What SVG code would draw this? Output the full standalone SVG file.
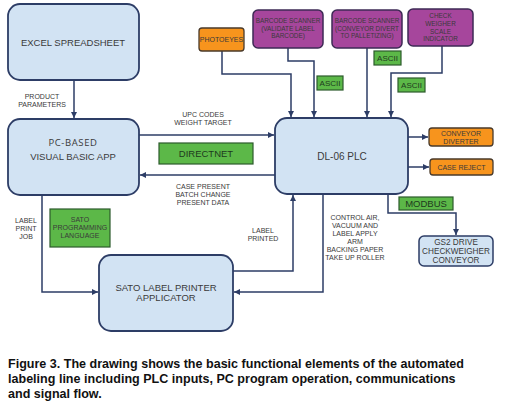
<svg xmlns="http://www.w3.org/2000/svg" width="506" height="416" viewBox="0 0 506 416">
<defs>
<marker id="ah" markerUnits="userSpaceOnUse" markerWidth="7" markerHeight="7" refX="6" refY="3" orient="auto">
<path d="M0,0 L6,3 L0,6 z" fill="#2d3d66"/>
</marker>
<style>
.blue{fill:#d2e3f3;stroke:#2d3d66;stroke-width:1.8}
.purple{fill:#a6469c;stroke:#3e2a55;stroke-width:1.5}
.orange{fill:#f7941d;stroke:#4a3a2a;stroke-width:1.3}
.green{fill:#5cb848;stroke:#2c5a2c;stroke-width:1.2}
.conn path{fill:none;stroke:#2d3d66;stroke-width:1.5;marker-end:url(#ah)}
text{font-family:"Liberation Sans",Arial,sans-serif;fill:#3a3a3a;text-anchor:middle}
.s7{font-size:7px}
.s65{font-size:6.4px}
.big{font-size:9.5px}
.cap{font-size:12.55px;font-weight:bold;fill:#111;text-anchor:start}
.gt{fill:#1e3a1e}
</style>
</defs>
<rect width="506" height="416" fill="#ffffff"/>

<g id="connectors" class="conn">
<path d="M74,80 V118"/>
<path d="M139,135 H274"/>
<path d="M275,175 H140"/>
<path d="M222,51 V74 H291 V117"/>
<path d="M288,48 V61 H314 V117"/>
<path d="M367,48 V117"/>
<path d="M442,46 V73 H391 V117"/>
<path d="M408,137 H428"/>
<path d="M408,167 H429"/>
<path d="M388,194 V213 H456 V235"/>
<path d="M323,194 V292 H234"/>
<path d="M233,271 H293 V195"/>
<path d="M42,195 V292 H98"/>
</g>

<g id="excel">
<rect class="blue" x="8" y="4" width="131" height="76" rx="12"/>
<text class="big" x="73" y="46">EXCEL SPREADSHEET</text>
</g>

<g id="pc">
<rect class="blue" x="8" y="119" width="131" height="76" rx="12"/>
<text x="73" y="146" style="font-family:'Open Sans',sans-serif;font-size:9.5px;letter-spacing:0.6px">PC-BASED</text>
<text class="big" x="73" y="160">VISUAL BASIC APP</text>
</g>

<g id="plc">
<rect class="blue" x="275" y="118" width="133" height="76" rx="12"/>
<text x="342" y="160" style="font-size:10px">DL-06 PLC</text>
</g>

<g id="sato">
<rect class="blue" x="99" y="255" width="134" height="76" rx="12"/>
<text class="big" x="166" y="291">SATO LABEL PRINTER</text>
<text class="big" x="166" y="301">APPLICATOR</text>
</g>

<g id="gs2">
<rect class="blue" x="419" y="236" width="74" height="30" rx="5" style="stroke-width:1.5"/>
<text x="456" y="245" style="font-size:8.2px">GS2 DRIVE</text>
<text x="456" y="254" style="font-size:8.2px">CHECKWEIGHER</text>
<text x="456" y="263" style="font-size:8.2px">CONVEYOR</text>
</g>

<g id="photoeyes">
<rect class="orange" x="199" y="28" width="45" height="23" rx="3"/>
<text class="s7" x="221.5" y="42">PHOTOEYES</text>
</g>

<g id="barcode1">
<rect class="purple" x="253" y="10" width="70" height="38" rx="5"/>
<text class="s65" x="288" y="23">BARCODE SCANNER</text>
<text class="s65" x="288" y="30.5">(VALIDATE LABEL</text>
<text class="s65" x="288" y="38">BARCODE)</text>
</g>

<g id="barcode2">
<rect class="purple" x="332" y="10" width="70" height="38" rx="5"/>
<text class="s65" x="367" y="23">BARCODE SCANNER</text>
<text class="s65" x="367" y="30.5">(CONVEYOR DIVERT</text>
<text class="s65" x="367" y="38">TO PALLETIZING)</text>
</g>

<g id="checkweigher">
<rect class="purple" x="408" y="9" width="65" height="37" rx="5"/>
<text class="s65" x="440.5" y="18">CHECK</text>
<text class="s65" x="440.5" y="26">WEIGHER</text>
<text class="s65" x="440.5" y="33.5">SCALE</text>
<text class="s65" x="440.5" y="41">INDICATOR</text>
</g>

<g id="diverter">
<rect class="orange" x="429" y="128" width="64" height="18" rx="3"/>
<text class="s7" x="461" y="136">CONVEYOR</text>
<text class="s7" x="461" y="144">DIVERTER</text>
</g>

<g id="reject">
<rect class="orange" x="430" y="159" width="63" height="16" rx="3"/>
<text class="s7" x="461.5" y="169.5">CASE REJECT</text>
</g>

<g id="directnet">
<rect class="green" x="159" y="143" width="94" height="21"/>
<text class="gt" x="206" y="157" style="font-size:9.5px">DIRECTNET</text>
</g>

<g id="ascii1">
<rect class="green" x="317" y="76" width="26" height="14"/>
<text class="gt" x="330" y="86" style="font-size:8px">ASCII</text>
</g>
<g id="ascii2">
<rect class="green" x="374" y="51" width="27" height="14"/>
<text class="gt" x="387.5" y="61" style="font-size:8px">ASCII</text>
</g>
<g id="ascii3">
<rect class="green" x="398" y="78" width="27" height="14"/>
<text class="gt" x="411.5" y="88" style="font-size:8px">ASCII</text>
</g>

<g id="modbus">
<rect class="green" x="399" y="197" width="54" height="13"/>
<text class="gt" x="426" y="207" style="font-size:9.5px">MODBUS</text>
</g>

<g id="satolang">
<rect class="green" x="50" y="209" width="60" height="38"/>
<text class="s7" x="80" y="222">SATO</text>
<text class="s7" x="80" y="230">PROGRAMMING</text>
<text class="s7" x="80" y="238">LANGUAGE</text>
</g>

<g id="labels">
<text class="s7" x="42" y="99">PRODUCT</text>
<text class="s7" x="42" y="107">PARAMETERS</text>
<text class="s7" x="203" y="117">UPC  CODES</text>
<text class="s7" x="203" y="125">WEIGHT TARGET</text>
<text class="s7" x="203" y="189">CASE PRESENT</text>
<text class="s7" x="203" y="197">BATCH CHANGE</text>
<text class="s7" x="203" y="205">PRESENT DATA</text>
<text class="s7" x="26" y="223">LABEL</text>
<text class="s7" x="26" y="231">PRINT</text>
<text class="s7" x="26" y="239">JOB</text>
<text class="s7" x="263" y="233">LABEL</text>
<text class="s7" x="263" y="241">PRINTED</text>
<text class="s7" x="355" y="220">CONTROL AIR,</text>
<text class="s7" x="355" y="228">VACUUM AND</text>
<text class="s7" x="355" y="236">LABEL APPLY</text>
<text class="s7" x="355" y="244">ARM</text>
<text class="s7" x="355" y="252">BACKING PAPER</text>
<text class="s7" x="355" y="260">TAKE UP ROLLER</text>
</g>

<g id="caption">
<text class="cap" x="8" y="368">Figure 3. The drawing shows the basic functional elements of the automated</text>
<text class="cap" x="8" y="383">labeling line including PLC inputs, PC program operation, communications</text>
<text class="cap" x="8" y="398">and signal flow.</text>
</g>
</svg>
